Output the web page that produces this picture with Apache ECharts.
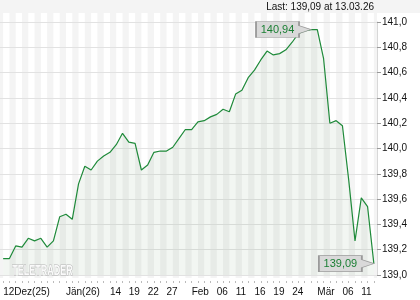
<!DOCTYPE html>
<html><head><meta charset="utf-8">
<script src="https://cdn.jsdelivr.net/npm/echarts@6/dist/echarts.min.js"></script>
<style>html,body{margin:0;padding:0;background:#fff}#c{width:420px;height:300px}</style>
</head><body><div id="c"></div>
<script>
const dates = [
 '2025-12-12','2025-12-15','2025-12-16','2025-12-17','2025-12-18','2025-12-19','2025-12-22','2025-12-23','2025-12-29','2025-12-30',
 '2026-01-02','2026-01-05','2026-01-07','2026-01-08','2026-01-09','2026-01-12','2026-01-13','2026-01-14','2026-01-15','2026-01-16',
 '2026-01-19','2026-01-20','2026-01-21','2026-01-22','2026-01-23','2026-01-26','2026-01-27','2026-01-28','2026-01-29','2026-01-30',
 '2026-02-02','2026-02-03','2026-02-04','2026-02-05','2026-02-06','2026-02-09','2026-02-10','2026-02-11','2026-02-12','2026-02-13',
 '2026-02-16','2026-02-17','2026-02-18','2026-02-19','2026-02-20','2026-02-23','2026-02-24','2026-02-25','2026-02-26','2026-02-27',
 '2026-03-02','2026-03-03','2026-03-04','2026-03-05','2026-03-06','2026-03-09','2026-03-10','2026-03-11','2026-03-12','2026-03-13'
];
const values = [
 139.13,139.13,139.23,139.22,139.29,139.27,139.29,139.22,139.27,139.46,
 139.48,139.44,139.72,139.86,139.83,139.90,139.94,139.97,140.03,140.12,
 140.05,140.04,139.83,139.87,139.97,139.98,139.98,140.01,140.08,140.15,
 140.15,140.21,140.22,140.25,140.27,140.31,140.29,140.43,140.46,140.56,
 140.62,140.70,140.77,140.74,140.75,140.78,140.84,140.91,140.93,140.94,
 140.94,140.71,140.20,140.22,140.18,139.75,139.27,139.61,139.54,139.09
];
const tickDates = ['2025-12-12','2026-01-02','2026-01-14','2026-01-19','2026-01-22','2026-01-27','2026-02-02','2026-02-06','2026-02-11','2026-02-16','2026-02-19','2026-02-24','2026-03-02','2026-03-06','2026-03-11'];
const tickLabels = ['12Dez(25)','Jän(26)','14','19','22','27','Feb','06','11','16','19','24','Mär','06','11'];
const yMin = 139.0, yMax = 141.0, yStep = 0.2;

const fmt = (v, d) => v.toFixed(d).replace('.', ',');
const lastIdx = values.length - 1;
const maxVal = Math.max.apply(null, values);
const maxIdx = values.indexOf(maxVal);
const ld = dates[lastIdx].split('-');
const headerText = 'Last: ' + fmt(values[lastIdx], 2) + ' at ' + ld[2] + '.' + ld[1] + '.' + ld[0].slice(2);

// alternate background bands between consecutive points (band k spans point k .. k+1)
const stripeBands = [];
for (let k = -1; k < dates.length; k += 2) stripeBands.push([0, k]);

const FONT = '"Liberation Sans", Arial, sans-serif';
const chart = echarts.init(document.getElementById('c'), null, {renderer: 'canvas'});
chart.setOption({
  animation: false,
  backgroundColor: '#fff',
  title: {
    text: headerText, right: 46, top: 2, padding: 0,
    textStyle: {fontSize: 10, fontWeight: 'normal', color: '#111', fontFamily: FONT}
  },
  graphic: [
    {type: 'rect', left: 0, top: 0, shape: {width: 420, height: 13}, style: {fill: '#f4f4f4'}, z: -1},
    {type: 'text', left: 12, top: 263, scaleX: 0.6, z: 10,
     style: {text: 'TELETRADER', font: 'bold 15px ' + FONT, fill: '#fafafa', stroke: '#b4b4b4', lineWidth: 1.2}}
  ],
  grid: [
    {left: 0, right: 43, top: 22, bottom: 25},
    {left: 0, right: 43, top: 13, bottom: 22}
  ],
  xAxis: [
    {
      type: 'category', gridIndex: 0, data: dates, boundaryGap: true, offset: 6, z: 1,
      axisLine: {show: false},
      axisTick: {show: true, interval: 0, length: 2, alignWithLabel: true, lineStyle: {color: '#bbb'}},
      axisLabel: {
        interval: 0, margin: 6, align: 'left', fontSize: 10, color: '#111', fontFamily: FONT,
        formatter: v => { const i = tickDates.indexOf(v); return i >= 0 ? tickLabels[i] : ''; }
      },
      splitLine: {show: false}
    },
    {type: 'category', gridIndex: 1, data: dates, boundaryGap: true, show: false}
  ],
  yAxis: [
    {
      type: 'value', gridIndex: 0, position: 'right', min: yMin, max: yMax, interval: yStep, z: 1,
      axisLine: {show: true, lineStyle: {color: '#d8d8d8'}},
      axisTick: {show: true, length: 4, lineStyle: {color: '#999'}},
      axisLabel: {margin: 5, fontSize: 10, color: '#111', fontFamily: FONT, formatter: v => fmt(v, 1)},
      splitLine: {show: true, lineStyle: {color: '#e2e2e2', width: 1}}
    },
    {type: 'value', gridIndex: 1, min: 0, max: 1, show: false}
  ],
  series: [
    {
      type: 'custom', xAxisIndex: 1, yAxisIndex: 1, z: 0, silent: true,
      data: stripeBands,
      renderItem: function (params, api) {
        const cs = params.coordSys;
        const k = api.value(1);
        const bw = api.size([1, 0])[0];
        const x0 = api.coord([0, 0])[0] + k * bw;
        const xa = Math.max(x0, cs.x), xb = Math.min(x0 + bw, cs.x + cs.width);
        if (xb <= xa) return null;
        return {type: 'rect', shape: {x: xa, y: cs.y, width: xb - xa, height: cs.height}, style: {fill: '#f4f4f4'}};
      }
    },
    {
      type: 'line', xAxisIndex: 0, yAxisIndex: 0, data: values, z: 2,
      symbol: 'none', smooth: false,
      lineStyle: {color: '#1f8a3a', width: 1.2},
      areaStyle: {color: 'rgba(90,140,90,0.11)'},
      markPoint: {
        symbol: 'path://M0,0 L43,0 L43,4 L55,8 L43,12 L43,16 L0,16 Z',
        symbolSize: [55, 16], symbolOffset: [-27.5, 0], symbolKeepAspect: false,
        itemStyle: {color: '#d9d9d9', borderColor: '#9a9a9a', borderWidth: 1},
        label: {show: true, position: 'inside', offset: [-6, 0], color: '#1a7f33', fontSize: 11, fontFamily: FONT,
                formatter: p => fmt(p.value, 2)},
        data: [
          {coord: [dates[maxIdx], maxVal], value: maxVal},
          {coord: [dates[lastIdx], values[lastIdx]], value: values[lastIdx]}
        ]
      }
    }
  ]
});
</script></body></html>
